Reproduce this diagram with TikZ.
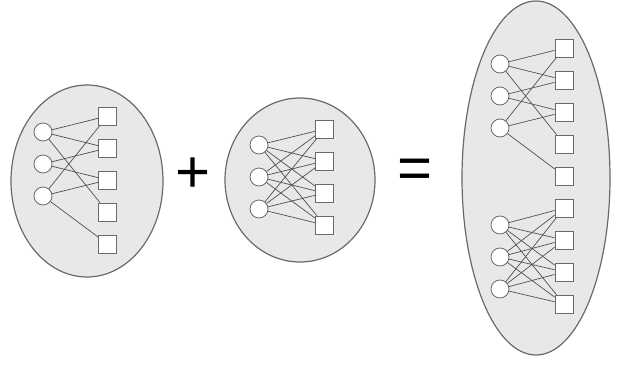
\documentclass[tikz,border=0pt]{standalone}
\usepackage{fontspec}
\setmainfont{Liberation Sans}
\usetikzlibrary{shapes.geometric}

\definecolor{grpfill}{HTML}{E8E8E8}
\definecolor{grpline}{HTML}{6A6A6A}
\definecolor{edgeline}{HTML}{505050}

\begin{document}
\begin{tikzpicture}[-,x=1pt,y=-1pt,node distance=32pt,semithick]
		\tikzstyle{group}=[ellipse,fill=grpfill,draw=grpline,line width=1.2pt,inner sep=0pt]
		\tikzstyle{left vertex}=[circle,draw=grpline,fill=white,line width=0.8pt,minimum size=18pt,inner sep=0pt]
		\tikzstyle{right vertex}=[rectangle,draw=grpline,fill=white,line width=0.8pt,minimum size=18pt,inner sep=0pt]
		\tikzstyle{every edge}=[draw=edgeline,line width=0.7pt]
		\tikzstyle{op}=[font=\fontsize{60}{60}\selectfont,inner sep=0pt]
		\useasboundingbox (0,0) rectangle (623,364);
		
		% groups
		\node[group,minimum width=152pt,minimum height=192pt] (ga) at (87,181) {};
		\node[group,minimum width=150pt,minimum height=164pt] (gb) at (300,180) {};
		\node[group,minimum width=148pt,minimum height=354pt] (gc) at (536,178) {};
		
		\node[op] (plus) at (193.5,175) {+};
		\node[op] (eq)   at (415,174) {=};
		
		% first graph
		\node[left vertex]  (a1) at (43,132) {};
		\node[left vertex]  (a2) [below of=a1] {};
		\node[left vertex]  (a3) [below of=a2] {};
		\node[right vertex] (p1) at (107.5,116) {};
		\node[right vertex] (p2) [below of=p1] {};
		\node[right vertex] (p3) [below of=p2] {};
		\node[right vertex] (p4) [below of=p3] {};
		\node[right vertex] (p5) [below of=p4] {};
		
		\path (a1) edge (p1) edge (p2) edge (p4)
		(a2) edge (p2) edge (p3)
		(a3) edge (p1) edge (p3) edge (p5);
		
		% second graph
		\node[left vertex]  (b1) at (259,145) {};
		\node[left vertex]  (b2) [below of=b1] {};
		\node[left vertex]  (b3) [below of=b2] {};
		\node[right vertex] (q1) at (324.5,129) {};
		\node[right vertex] (q2) [below of=q1] {};
		\node[right vertex] (q3) [below of=q2] {};
		\node[right vertex] (q4) [below of=q3] {};
		
		\path (b1) edge (q1) edge (q2) edge (q3) edge (q4)
		(b2) edge (q1) edge (q2) edge (q3) edge (q4)
		(b3) edge (q1) edge (q2) edge (q3) edge (q4);
		
		% union, upper part
		\node[left vertex]  (c1) at (500,64) {};
		\node[left vertex]  (c2) [below of=c1] {};
		\node[left vertex]  (c3) [below of=c2] {};
		\node[right vertex] (r1) at (564,48) {};
		\node[right vertex] (r2) [below of=r1] {};
		\node[right vertex] (r3) [below of=r2] {};
		\node[right vertex] (r4) [below of=r3] {};
		\node[right vertex] (r5) [below of=r4] {};
		
		\path (c1) edge (r1) edge (r2) edge (r4)
		(c2) edge (r2) edge (r3)
		(c3) edge (r1) edge (r3) edge (r5);
		
		% union, lower part
		\node[left vertex]  (d1) at (500,225) {};
		\node[left vertex]  (d2) [below of=d1] {};
		\node[left vertex]  (d3) [below of=d2] {};
		\node[right vertex] (s1) at (564,208) {};
		\node[right vertex] (s2) [below of=s1] {};
		\node[right vertex] (s3) [below of=s2] {};
		\node[right vertex] (s4) [below of=s3] {};
		
		\path (d1) edge (s1) edge (s2) edge (s3) edge (s4)
		(d2) edge (s1) edge (s2) edge (s3) edge (s4)
		(d3) edge (s1) edge (s2) edge (s3) edge (s4);
\end{tikzpicture}
\end{document}
